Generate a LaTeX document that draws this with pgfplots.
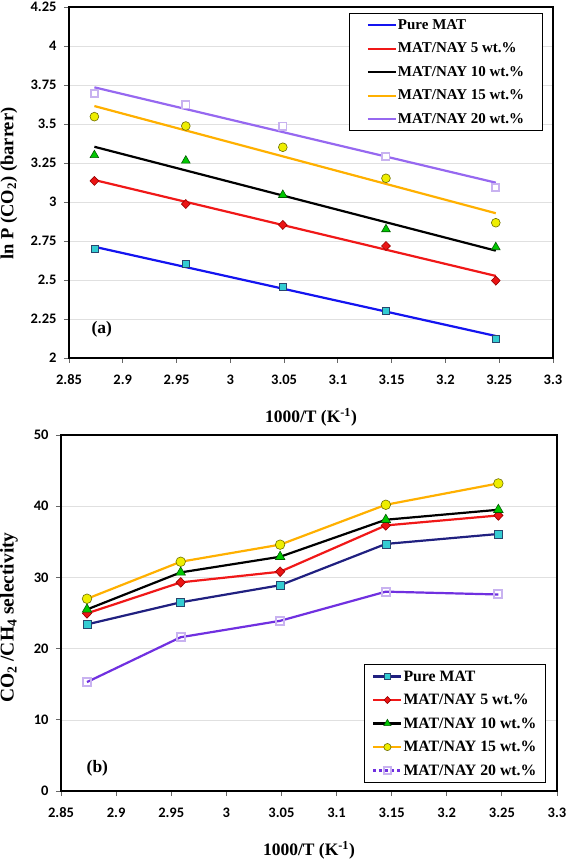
\documentclass[border=0pt]{standalone}
\usepackage{pgfplots}
\pgfplotsset{compat=1.18}
\usepackage{fontspec}
\setmainfont{Liberation Serif}
\newfontfamily\tickfont{Carlito}

\definecolor{cBlue}{RGB}{20,20,240}
\definecolor{cNavy}{RGB}{32,32,128}
\definecolor{cRed}{RGB}{240,24,24}
\definecolor{cOrange}{RGB}{255,176,0}
\definecolor{cPurpleA}{RGB}{150,104,240}
\definecolor{cPurpleB}{RGB}{112,48,224}
\definecolor{mCyan}{RGB}{51,204,210}
\definecolor{mCyanE}{RGB}{40,70,110}
\definecolor{mRed}{RGB}{235,20,20}
\definecolor{mRedE}{RGB}{150,0,0}
\definecolor{mGreen}{RGB}{0,200,0}
\definecolor{mGreenE}{RGB}{0,90,0}
\definecolor{mYellow}{RGB}{238,238,0}
\definecolor{mYellowE}{RGB}{110,110,0}
\definecolor{mLav}{RGB}{200,178,240}

\pgfplotsset{
  common/.style={
    scale only axis,
    anchor=south west,
    xmin=2.85, xmax=3.3,
    xtick={2.85,2.9,2.95,3,3.05,3.1,3.15,3.2,3.25,3.3},
    xticklabels={2.85,2.9,2.95,3,3.05,3.1,3.15,3.2,3.25,3.3},
    tick align=outside,
    major tick length=5pt,
    tick style={color=black!60, line width=0.8pt},
    axis line style={line width=1.6pt},
    ymajorgrids,
    major grid style={color=black!12, line width=0.5pt},
    xtick pos=bottom, ytick pos=left,
    ticklabel style={font=\tickfont\bfseries\fontsize{14.5}{16}\selectfont},
    xticklabel style={yshift=-8pt},
    yticklabel style={xshift=-4pt},
    xlabel style={font=\bfseries\fontsize{17.5}{20}\selectfont},
    legend cell align=left,
  },
  legline/.style n args={3}{legend image code/.code={%
    \draw[color=#1, line width=2.2pt, #2] (0pt,0pt) -- (28pt,0pt);
    \path[#3] plot coordinates {(14pt,0pt)};}},
}

\begin{document}
\begin{tikzpicture}
\useasboundingbox (0,0) rectangle (568pt,859pt);

% ---------------- Panel (a) ----------------
\begin{axis}[common,
  at={(69pt,501pt)},
  width=484pt, height=351pt,
  ymin=2, ymax=4.25,
  ytick={2,2.25,2.5,2.75,3,3.25,3.5,3.75,4,4.25},
  yticklabels={2,2.25,2.5,2.75,3,3.25,3.5,3.75,4,4.25},
  xlabel={1000/T (K\textsuperscript{-1})},
  ylabel={ln P (CO\textsubscript{2}) (barrer)},
  xlabel style={at={(axis description cs:0.5,-0.168)}, anchor=center},
  ylabel style={at={(axis description cs:-0.124,0.497)}, anchor=center,
    font=\bfseries\fontsize{18.5}{21}\selectfont},
  legend style={at={(axis description cs:0.979,0.983)}, anchor=north east,
    draw=black, line width=1.2pt, fill=white,
    font=\bfseries\fontsize{15}{17}\selectfont,
    inner xsep=17pt, inner ysep=4pt, row sep=8pt,
    nodes={inner xsep=1pt}},
  legend image code/.code={\draw[#1] (0pt,0pt) -- (28pt,0pt);},
]
% linear fit lines
\addplot[color=cBlue, line width=2.2pt, legend image post style={color=cBlue, line width=2.2pt}]
  coordinates {(2.8736,2.713) (3.2468,2.141)};
\addlegendentry{Pure MAT}
\addplot[color=cRed, line width=2.2pt] coordinates {(2.8736,3.141) (3.2468,2.526)};
\addlegendentry{MAT/NAY 5 wt.\%}
\addplot[color=black, line width=2.2pt] coordinates {(2.8736,3.354) (3.2468,2.688)};
\addlegendentry{MAT/NAY 10 wt.\%}
\addplot[color=cOrange, line width=2.2pt] coordinates {(2.8736,3.615) (3.2468,2.928)};
\addlegendentry{MAT/NAY 15 wt.\%}
\addplot[color=cPurpleA, line width=2.2pt] coordinates {(2.8736,3.735) (3.2468,3.124)};
\addlegendentry{MAT/NAY 20 wt.\%}
% measured points
\addplot[only marks, forget plot, mark=square*, mark size=3.5pt,
  mark options={draw=mCyanE, fill=mCyan, line width=0.6pt}]
  coordinates {(2.8736,2.697) (2.9586,2.607) (3.0488,2.457) (3.1447,2.301) (3.2468,2.120)};
\addplot[only marks, forget plot, mark=diamond*, mark size=4.5pt,
  mark options={draw=mRedE, fill=mRed, line width=0.6pt, xscale=1.3}]
  coordinates {(2.8736,3.135) (2.9586,2.987) (3.0488,2.853) (3.1447,2.718) (3.2468,2.496)};
\addplot[only marks, forget plot, mark=triangle*, mark size=5pt,
  mark options={draw=mGreenE, fill=mGreen, line width=0.6pt}]
  coordinates {(2.8736,3.300) (2.9586,3.265) (3.0488,3.045) (3.1447,2.825) (3.2468,2.710)};
\addplot[only marks, forget plot, mark=*, mark size=4.4pt,
  mark options={draw=mYellowE, fill=mYellow, line width=0.6pt}]
  coordinates {(2.8736,3.547) (2.9586,3.487) (3.0488,3.351) (3.1447,3.152) (3.2468,2.867)};
\addplot[only marks, forget plot, mark=square*, mark size=3.6pt,
  mark options={draw=mLav, fill=white, line width=1.8pt}]
  coordinates {(2.8736,3.697) (2.9586,3.622) (3.0488,3.487) (3.1447,3.290) (3.2468,3.092)};
\node[font=\bfseries\fontsize{17.5}{20}\selectfont] at (axis cs:2.8805,2.185) {(a)};
\end{axis}

% ---------------- Panel (b) ----------------
\begin{axis}[common,
  at={(61pt,68pt)},
  width=496pt, height=356pt,
  ymin=0, ymax=50,
  ytick={0,10,20,30,40,50},
  yticklabels={0,10,20,30,40,50},
  xlabel={1000/T (K\textsuperscript{-1})},
  ylabel={CO\textsubscript{2} /CH\textsubscript{4} selectivity},
  xlabel style={at={(axis description cs:0.5,-0.166)}, anchor=center},
  ylabel style={at={(axis description cs:-0.105,0.487)}, anchor=center,
    font=\bfseries\fontsize{19.5}{22}\selectfont},
  legend style={at={(axis description cs:0.978,0.022)}, anchor=south east,
    draw=black, line width=1.2pt, fill=white,
    font=\bfseries\fontsize{15.8}{18}\selectfont,
    inner xsep=8pt, inner ysep=4pt, row sep=7.5pt,
    nodes={inner xsep=1pt}},
]
% explicit legend images
\addlegendimage{legline={cNavy}{solid}{mark=square*, mark size=3pt, mark options={draw=mCyanE, fill=mCyan, line width=0.6pt}}}
\addlegendentry{Pure MAT}
\addlegendimage{legline={cRed}{solid}{mark=diamond*, mark size=3.5pt, mark options={draw=mRedE, fill=mRed, line width=0.6pt, xscale=1.3}}}
\addlegendentry{MAT/NAY 5 wt.\%}
\addlegendimage{legline={black}{solid}{mark=triangle*, mark size=4.2pt, mark options={draw=mGreenE, fill=mGreen, line width=0.6pt}}}
\addlegendentry{MAT/NAY 10 wt.\%}
\addlegendimage{legline={cOrange}{solid}{mark=*, mark size=3.6pt, mark options={draw=mYellowE, fill=mYellow, line width=0.6pt}}}
\addlegendentry{MAT/NAY 15 wt.\%}
\addlegendimage{legline={cPurpleB}{dashed}{mark=square, mark size=3.2pt, mark options={draw=mLav, line width=2pt, solid}}}
\addlegendentry{MAT/NAY 20 wt.\%}
% data
\addplot[forget plot, color=cNavy, line width=2.2pt, mark=square*, mark size=4pt,
  mark options={draw=mCyanE, fill=mCyan, line width=0.6pt}]
  coordinates {(2.8736,23.4) (2.9586,26.5) (3.0488,28.9) (3.1447,34.7) (3.2468,36.1)};
\addplot[forget plot, color=cRed, line width=2.2pt, mark=diamond*, mark size=4.8pt,
  mark options={draw=mRedE, fill=mRed, line width=0.6pt, xscale=1.3}]
  coordinates {(2.8736,24.95) (2.9586,29.3) (3.0488,30.8) (3.1447,37.3) (3.2468,38.7)};
\addplot[forget plot, color=black, line width=2.2pt, mark=triangle*, mark size=5.5pt,
  mark options={draw=mGreenE, fill=mGreen, line width=0.6pt}]
  coordinates {(2.8736,25.5) (2.9586,30.7) (3.0488,32.9) (3.1447,38.1) (3.2468,39.5)};
\addplot[forget plot, color=cOrange, line width=2.2pt, mark=*, mark size=4.8pt,
  mark options={draw=mYellowE, fill=mYellow, line width=0.6pt}]
  coordinates {(2.8736,27.0) (2.9586,32.2) (3.0488,34.6) (3.1447,40.2) (3.2468,43.2)};
\addplot[forget plot, color=cPurpleB, line width=2.2pt, mark=square, mark size=4pt,
  mark options={draw=mLav, line width=2pt, solid}]
  coordinates {(2.8736,15.3) (2.9586,21.6) (3.0488,23.9) (3.1447,28.0) (3.2468,27.6)};
\node[font=\bfseries\fontsize{17.5}{20}\selectfont] at (axis cs:2.883,3.2) {(b)};
\end{axis}
\end{tikzpicture}
\end{document}
